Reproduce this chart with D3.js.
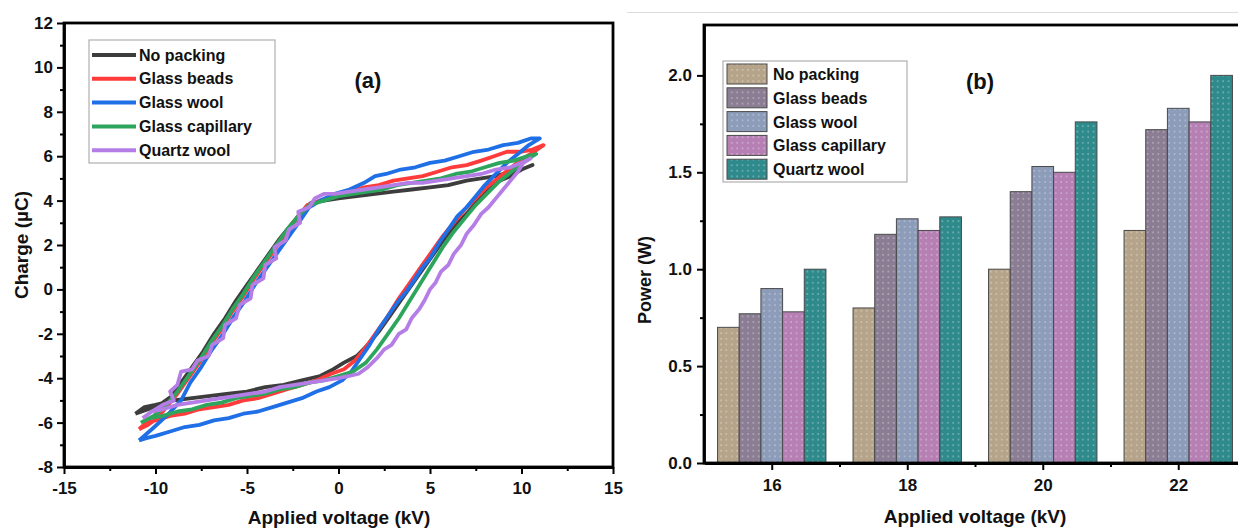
<!DOCTYPE html>
<html>
<head>
<meta charset="utf-8">
<script src="https://cdn.jsdelivr.net/npm/d3@7"></script>
<style>
body { margin: 0; background: #fff; }
text { font-family: "Liberation Sans", Arial, sans-serif; font-weight: bold; fill: #111; }
</style>
</head>
<body>
<svg width="1238" height="528"></svg>
<script>
// ---- data ----
var seriesNames = ["No packing", "Glass beads", "Glass wool", "Glass capillary", "Quartz wool"];

// (a) Q-V loops, [voltage kV, charge uC]
var noPacking = [[-11.1,-5.6],[-10.6,-5.3],[-10.0,-5.2],[-9.0,-5.0],[-8.0,-4.9],[-7.0,-4.8],[-6.0,-4.7],[-5.0,-4.6],[-4.0,-4.4],[-3.0,-4.3],[-2.0,-4.1],[-1.0,-3.9],[-0.3,-3.6],[0.3,-3.3],[1.0,-3.0],[1.6,-2.5],[2.2,-1.9],[2.8,-1.2],[3.4,-0.5],[4.0,0.2],[4.6,0.9],[5.2,1.6],[5.8,2.3],[6.4,2.9],[7.0,3.4],[7.6,4.0],[8.2,4.5],[8.8,4.9],[9.4,5.1],[10.0,5.4],[10.6,5.6],
  [10.0,5.4],[9.4,5.3],[8.6,5.1],[7.8,5.0],[7.0,4.9],[6.0,4.7],[5.0,4.6],[4.0,4.5],[3.0,4.4],[2.0,4.3],[1.0,4.2],[0.0,4.1],[-0.8,4.0],[-1.5,3.9],[-2.0,3.5],[-2.6,2.9],[-3.2,2.3],[-3.8,1.6],[-4.4,0.9],[-5.0,0.2],[-5.6,-0.5],[-6.2,-1.3],[-6.8,-2.0],[-7.4,-2.8],[-8.0,-3.5],[-8.6,-4.2],[-9.1,-4.8],[-9.6,-5.1],[-10.4,-5.4],[-11.1,-5.6]];
var glassBeads = [[-10.9,-6.3],[-10.5,-6.0],[-10.0,-5.9],[-9.2,-5.7],[-8.4,-5.6],[-7.6,-5.4],[-6.8,-5.3],[-6.0,-5.2],[-5.2,-5.0],[-4.4,-4.9],[-3.6,-4.7],[-2.8,-4.5],[-2.0,-4.3],[-1.2,-4.1],[-0.4,-3.8],[0.3,-3.6],[0.9,-3.2],[1.5,-2.6],[2.1,-1.9],[2.7,-1.2],[3.3,-0.4],[3.9,0.3],[4.5,1.0],[5.1,1.7],[5.7,2.4],[6.3,3.0],[6.9,3.6],[7.5,4.1],[8.1,4.6],[8.7,5.0],[9.3,5.4],[9.9,5.8],[10.5,6.1],[11.2,6.5],
  [10.6,6.3],[10.0,6.2],[9.2,6.2],[8.5,6.0],[7.8,5.8],[7.0,5.6],[6.2,5.5],[5.4,5.3],[4.6,5.1],[3.8,5.0],[3.0,4.9],[2.2,4.7],[1.4,4.6],[0.6,4.4],[-0.2,4.2],[-1.0,4.0],[-1.7,3.8],[-2.2,3.3],[-2.8,2.6],[-3.4,1.9],[-4.0,1.2],[-4.6,0.5],[-5.2,-0.3],[-5.8,-1.0],[-6.4,-1.8],[-7.0,-2.5],[-7.6,-3.3],[-8.2,-4.0],[-8.8,-4.7],[-9.3,-5.2],[-9.9,-5.8],[-10.4,-6.1],[-10.9,-6.3]];
var glassWool = [[-10.9,-6.8],[-10.5,-6.7],[-10.0,-6.6],[-9.2,-6.4],[-8.4,-6.2],[-7.6,-6.1],[-6.8,-5.9],[-6.0,-5.8],[-5.2,-5.6],[-4.4,-5.5],[-3.6,-5.3],[-2.8,-5.1],[-2.0,-4.9],[-1.2,-4.6],[-0.5,-4.4],[0.2,-4.1],[0.7,-3.7],[1.2,-3.1],[1.7,-2.5],[2.2,-1.8],[2.7,-1.2],[3.2,-0.6],[3.7,-0.1],[4.2,0.5],[4.6,1.0],[5.0,1.4],[5.5,2.1],[6.0,2.7],[6.5,3.3],[7.0,3.7],[7.5,4.2],[8.0,4.7],[8.6,5.2],[9.2,5.7],[9.8,6.1],[10.4,6.5],[11.0,6.8],
  [10.5,6.8],[9.8,6.6],[9.0,6.5],[8.2,6.3],[7.4,6.2],[6.6,6.0],[5.8,5.8],[5.0,5.7],[4.2,5.5],[3.4,5.4],[2.6,5.2],[2.0,5.1],[1.4,4.8],[0.6,4.5],[-0.2,4.3],[-1.0,4.0],[-1.6,3.7],[-2.1,3.1],[-2.7,2.4],[-3.3,1.7],[-3.9,1.0],[-4.5,0.3],[-5.1,-0.5],[-5.7,-1.2],[-6.3,-2.0],[-6.9,-2.7],[-7.5,-3.5],[-8.1,-4.2],[-8.6,-5.0],[-9.4,-5.7],[-10.2,-6.3],[-10.9,-6.8]];
var glassCapillary = [[-10.8,-6.0],[-10.3,-5.8],[-9.6,-5.7],[-8.8,-5.5],[-8.0,-5.4],[-7.2,-5.2],[-6.4,-5.1],[-5.6,-4.9],[-4.8,-4.8],[-4.0,-4.7],[-3.2,-4.5],[-2.4,-4.4],[-1.6,-4.2],[-0.8,-4.1],[0.0,-3.9],[0.8,-3.7],[1.5,-3.3],[2.1,-2.7],[2.7,-2.0],[3.3,-1.3],[3.9,-0.5],[4.5,0.3],[5.1,1.1],[5.7,1.9],[6.3,2.6],[6.9,3.2],[7.5,3.8],[8.1,4.3],[8.7,4.8],[9.3,5.2],[9.9,5.6],[10.4,5.9],[10.8,6.1],
  [10.3,6.0],[9.6,5.8],[8.8,5.7],[8.0,5.5],[7.2,5.3],[6.4,5.2],[5.6,5.0],[4.8,4.9],[4.0,4.8],[3.2,4.7],[2.4,4.5],[1.6,4.4],[0.8,4.3],[0.0,4.2],[-0.8,4.0],[-1.6,3.8],[-2.2,3.3],[-2.8,2.7],[-3.4,2.0],[-4.0,1.3],[-4.6,0.6],[-5.2,-0.2],[-5.8,-0.9],[-6.4,-1.7],[-7.0,-2.4],[-7.6,-3.2],[-8.2,-3.9],[-8.8,-4.6],[-9.4,-5.2],[-10.1,-5.7],[-10.8,-6.0]];
var quartzWool = [[-10.7,-5.8],[-10.2,-5.5],[-9.6,-5.4],[-8.8,-5.2],[-8.0,-5.1],[-7.2,-5.0],[-6.4,-4.9],[-5.6,-4.8],[-4.8,-4.7],[-4.0,-4.6],[-3.2,-4.4],[-2.4,-4.3],[-1.6,-4.2],[-0.8,-4.1],[0.0,-4.0],[0.6,-3.9],[1.1,-3.8],[1.6,-3.5],[2.1,-3.1],[2.5,-2.7],[2.9,-2.5],[3.3,-2.0],[3.7,-1.8],[4.0,-1.3],[4.4,-0.9],[4.7,-0.5],[5.0,0.0],[5.3,0.3],[5.6,0.8],[6.0,1.1],[6.3,1.6],[6.7,2.0],[7.0,2.5],[7.4,2.9],[7.8,3.4],[8.2,3.7],[8.6,4.1],[9.0,4.5],[9.4,4.9],[9.8,5.3],[10.1,5.7],[10.5,5.9],
  [10.0,5.7],[9.4,5.5],[8.6,5.4],[7.8,5.2],[7.0,5.1],[6.2,5.0],[5.4,4.9],[4.6,4.8],[3.8,4.8],[3.0,4.7],[2.2,4.6],[1.4,4.5],[0.6,4.4],[-0.2,4.3],[-0.8,4.3],[-1.3,4.1],[-1.6,3.7],[-2.2,3.5],[-2.1,3.0],[-2.7,2.7],[-2.9,2.2],[-3.5,1.9],[-3.4,1.4],[-4.0,1.1],[-4.1,0.5],[-4.7,0.2],[-4.8,-0.4],[-5.4,-0.7],[-5.6,-1.3],[-6.2,-1.6],[-6.3,-2.2],[-6.9,-2.5],[-7.1,-3.0],[-7.7,-3.2],[-8.0,-3.6],[-8.6,-3.7],[-8.8,-4.3],[-9.2,-4.6],[-9.0,-5.0],[-9.6,-5.2],[-10.2,-5.5],[-10.7,-5.8]];
var loops = [noPacking, glassBeads, glassWool, glassCapillary, quartzWool];

// (b) power vs applied voltage
var voltages = [16, 18, 20, 22];
var powerNoPacking = [0.70, 0.80, 1.00, 1.20];
var powerGlassBeads = [0.77, 1.18, 1.40, 1.72];
var powerGlassWool = [0.90, 1.26, 1.53, 1.83];
var powerGlassCapillary = [0.78, 1.20, 1.50, 1.76];
var powerQuartzWool = [1.00, 1.27, 1.76, 2.00];
var powers = [powerNoPacking, powerGlassBeads, powerGlassWool, powerGlassCapillary, powerQuartzWool];

var qTicks = [-8, -6, -4, -2, 0, 2, 4, 6, 8, 10, 12];
var vTicks = [-15, -10, -5, 0, 5, 10, 15];
var pTicks = [0, 0.5, 1.0, 1.5, 2.0];

var lineColors = ["#3d3d3d", "#ff3b3b", "#1f6fe6", "#2ea55c", "#b57ee6"];
var barColors = ["#b5a489", "#8b7e94", "#8c9cb9", "#b680b4", "#2f8a8c"];

var svg = d3.select("svg");
var plain = function(d){ return String(d); };   // keep ASCII hyphen minus

// light rule at the top of the right panel
svg.append("line").attr("x1", 627).attr("x2", 1238).attr("y1", 12.5).attr("y2", 12.5)
  .attr("stroke", "#dcdcdc").attr("stroke-width", 1);

function styleAxis(g) {
  g.select(".domain").attr("stroke", "#000").attr("stroke-width", 2.8);
  g.selectAll(".tick line").attr("stroke", "#000").attr("stroke-width", 2);
  g.selectAll(".tick text").style("font-size", "17px").attr("fill", "#111");
}
function minorAxis(g) {
  g.select(".domain").remove();
  g.selectAll(".tick line").attr("stroke", "#000").attr("stroke-width", 2);
}

// ================= (a) =================
var ax = d3.scaleLinear().domain([-15, 15]).range([64, 613]);
var ay = d3.scaleLinear().domain([-8, 12]).range([467, 23]);

var ga = svg.append("g");

var line = d3.line().x(function(d){ return ax(d[0]); }).y(function(d){ return ay(d[1]); });
ga.selectAll("path.loop")
  .data(loops)
  .enter()
  .append("path")
  .attr("class", "loop")
  .attr("d", line)
  .attr("fill", "none")
  .attr("stroke", function(d, i){ return lineColors[i]; })
  .attr("stroke-width", 3.8)
  .attr("stroke-linejoin", "round");

ga.append("rect").attr("x", ax(-15)).attr("y", ay(12))
  .attr("width", ax(15) - ax(-15)).attr("height", ay(-8) - ay(12))
  .attr("fill", "none").attr("stroke", "#000").attr("stroke-width", 2.8);

ga.append("g").attr("transform", "translate(0," + ay(-8) + ")")
  .call(d3.axisBottom(ax).tickValues([-12.5, -7.5, -2.5, 2.5, 7.5, 12.5]).tickSize(4).tickFormat(""))
  .call(minorAxis);
ga.append("g").attr("transform", "translate(0," + ay(-8) + ")")
  .call(d3.axisBottom(ax).tickValues(vTicks).tickSize(7).tickPadding(8).tickSizeOuter(0).tickFormat(plain))
  .call(styleAxis);
ga.append("g").attr("transform", "translate(" + ax(-15) + ",0)")
  .call(d3.axisLeft(ay).tickValues(d3.range(-7, 12, 2)).tickSize(4).tickFormat(""))
  .call(minorAxis);
ga.append("g").attr("transform", "translate(" + ax(-15) + ",0)")
  .call(d3.axisLeft(ay).tickValues(qTicks).tickSize(7).tickPadding(4).tickSizeOuter(0).tickFormat(plain))
  .call(styleAxis);

ga.append("text").attr("x", 339).attr("y", 524).attr("text-anchor", "middle")
  .style("font-size", "19px").text("Applied voltage (kV)");
ga.append("text").attr("transform", "translate(28,245) rotate(-90)").attr("text-anchor", "middle")
  .style("font-size", "19px").text("Charge (µC)");
ga.append("text").attr("x", 368).attr("y", 88).attr("text-anchor", "middle")
  .style("font-size", "22px").text("(a)");

var legA = ga.append("g");
legA.append("rect").attr("x", 89).attr("y", 40).attr("width", 186).attr("height", 123)
  .attr("fill", "#fff").attr("stroke", "#b0b0b0").attr("stroke-width", 1.2);
seriesNames.forEach(function(name, i) {
  var yy = 55 + i * 23.8;
  legA.append("line").attr("x1", 92).attr("x2", 136).attr("y1", yy).attr("y2", yy)
    .attr("stroke", lineColors[i]).attr("stroke-width", 4);
  legA.append("text").attr("x", 139).attr("y", yy + 5.5).style("font-size", "16px").text(name);
});

// ================= (b) =================
var bx = d3.scaleLinear().domain([15, 23]).range([704, 1246]);
var by = d3.scaleLinear().domain([0, 2.26]).range([463, 25]);
var barW = 0.32; // kV per bar

var defs = svg.append("defs");
barColors.forEach(function(c, i) {
  var p = defs.append("pattern").attr("id", "dots" + i).attr("patternUnits", "userSpaceOnUse")
    .attr("width", 5.4).attr("height", 5.6);
  p.append("rect").attr("width", 5.4).attr("height", 5.6).attr("fill", c);
  p.append("rect").attr("x", 2).attr("y", 2).attr("width", 1.6).attr("height", 1.6)
    .attr("fill", "#fff").attr("opacity", 0.35);
});

var gb = svg.append("g");
powers.forEach(function(vals, s) {
  gb.selectAll("rect.s" + s)
    .data(vals)
    .enter()
    .append("rect")
    .attr("class", "s" + s)
    .attr("x", function(d, i){ return bx(voltages[i] - 2.5 * barW + s * barW); })
    .attr("y", function(d){ return by(d); })
    .attr("width", bx(barW) - bx(0))
    .attr("height", function(d){ return by(0) - by(d); })
    .attr("fill", "url(#dots" + s + ")")
    .attr("stroke", "#4a4a4a")
    .attr("stroke-width", 1);
});

gb.append("rect").attr("x", bx(15)).attr("y", by(2.26))
  .attr("width", bx(23) - bx(15)).attr("height", by(0) - by(2.26))
  .attr("fill", "none").attr("stroke", "#000").attr("stroke-width", 2.8);

gb.append("g").attr("transform", "translate(0," + by(0) + ")")
  .call(d3.axisBottom(bx).tickValues([17, 19, 21]).tickSize(4).tickFormat(""))
  .call(minorAxis);
gb.append("g").attr("transform", "translate(0," + by(0) + ")")
  .call(d3.axisBottom(bx).tickValues(voltages).tickSize(7).tickPadding(9).tickSizeOuter(0).tickFormat(d3.format("d")))
  .call(styleAxis);
gb.append("g").attr("transform", "translate(" + bx(15) + ",0)")
  .call(d3.axisLeft(by).tickValues([0.25, 0.75, 1.25, 1.75]).tickSize(4).tickFormat(""))
  .call(minorAxis);
gb.append("g").attr("transform", "translate(" + bx(15) + ",0)")
  .call(d3.axisLeft(by).tickValues(pTicks).tickSize(7).tickPadding(5).tickSizeOuter(0).tickFormat(d3.format(".1f")))
  .call(styleAxis);

gb.append("text").attr("x", 975).attr("y", 523).attr("text-anchor", "middle")
  .style("font-size", "19px").text("Applied voltage (kV)");
gb.append("text").attr("transform", "translate(651,280) rotate(-90)").attr("text-anchor", "middle")
  .style("font-size", "18px").text("Power (W)");
gb.append("text").attr("x", 980).attr("y", 89).attr("text-anchor", "middle")
  .style("font-size", "22px").text("(b)");

var legB = gb.append("g");
legB.append("rect").attr("x", 723).attr("y", 61).attr("width", 184).attr("height", 121)
  .attr("fill", "#fff").attr("stroke", "#b0b0b0").attr("stroke-width", 1.2);
seriesNames.forEach(function(name, i) {
  var yy = 74 + i * 23.8;
  legB.append("rect").attr("x", 727).attr("y", yy - 10).attr("width", 40).attr("height", 20)
    .attr("fill", "url(#dots" + i + ")").attr("stroke", "#4a4a4a").attr("stroke-width", 1);
  legB.append("text").attr("x", 773).attr("y", yy + 6).style("font-size", "16px").text(name);
});
</script>
</body>
</html>
